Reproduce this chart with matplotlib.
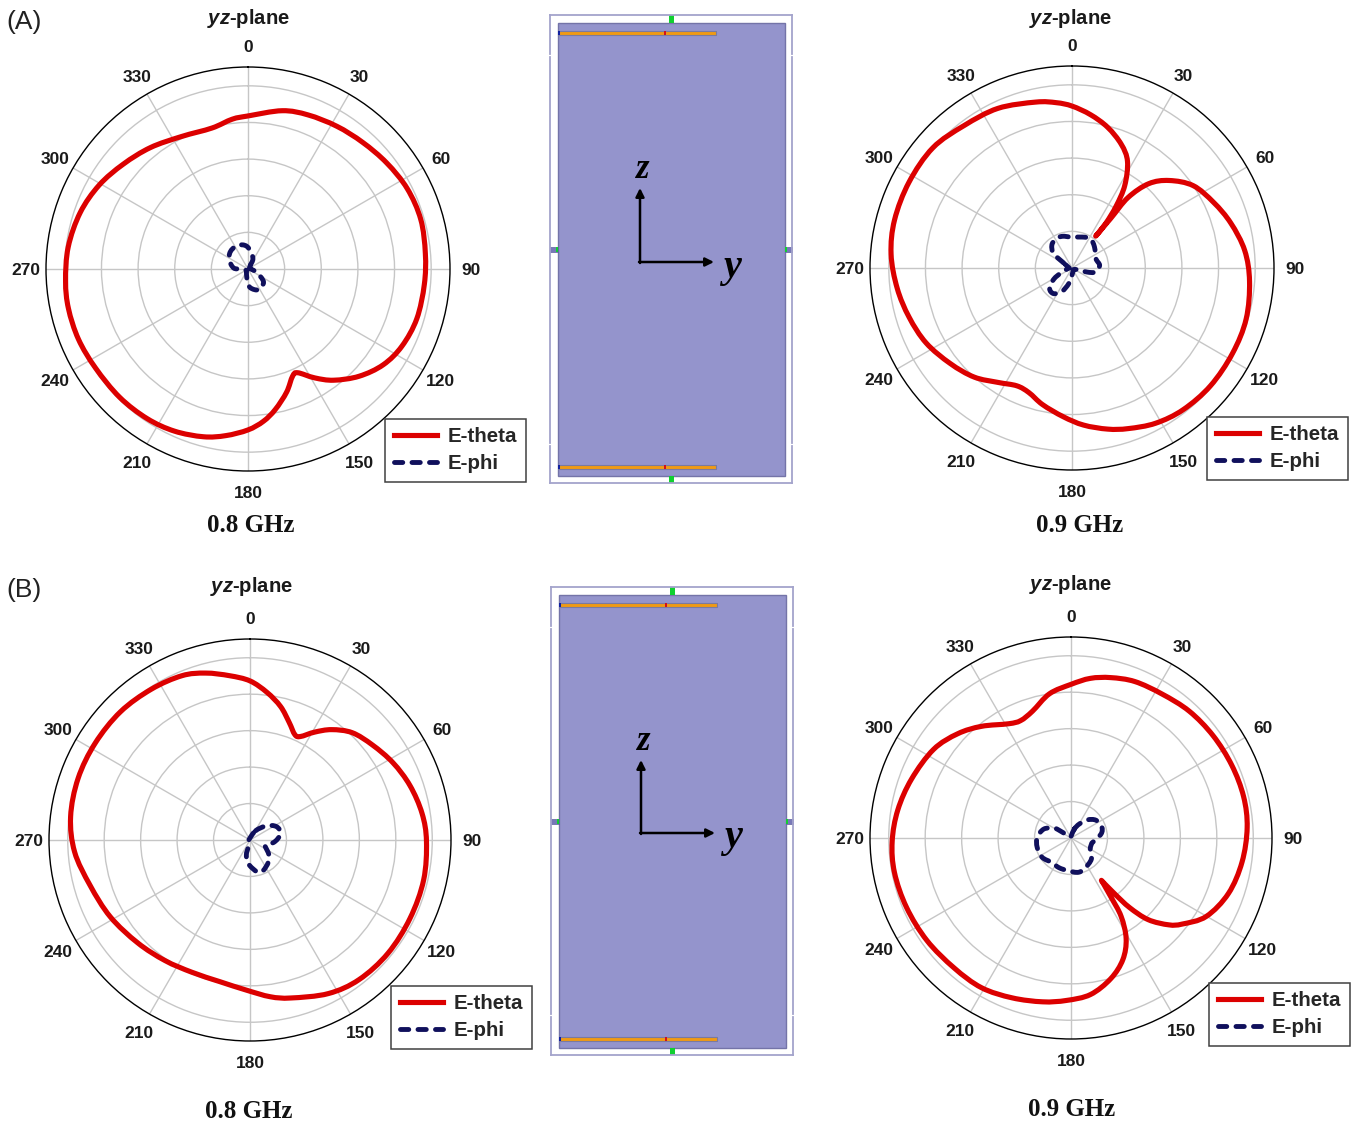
import numpy as np
import matplotlib
matplotlib.use('Agg')
from matplotlib import pyplot as plt
from matplotlib.lines import Line2D
from matplotlib.patches import PathPatch, Rectangle
from matplotlib.path import Path

W, H = 1357, 1122
plt.rcParams['font.family'] = ['Liberation Sans', 'DejaVu Sans']
plt.rcParams['mathtext.fontset'] = 'custom'
plt.rcParams['mathtext.bfit'] = 'Liberation Sans:italic:bold'

# radial unit: outer circle = 590, rings every 107
angles = list(range(0, 360, 30))
angle_labels = [str(a) for a in angles]
rings = [107, 214, 321, 428, 535]

# (A) 0.8 GHz
th_a08 = [0, 12.2, 21.3, 31.9, 42.2, 52.6, 63.2, 74, 85, 95, 106.4, 116.6, 125.3, 134, 142.4, 148.5, 154.4,
          157.4, 162.6, 169, 174.2, 180, 187.6, 194.9, 204.4, 214, 225, 237, 247.5, 257.6, 266.2, 277, 288.6,
          299.4, 310, 321.2, 333.3, 345.7, 354]
r_a08 = [447, 473, 483, 491, 499, 510, 521, 525, 520, 517, 514, 503, 484, 451, 410, 373, 336,
         339, 377, 418, 447, 470, 491, 507, 520, 527, 530, 531, 536, 537, 534, 529, 517,
         499, 476, 455, 433, 425, 440]
th_a08_phi = [32.5, 60, 90, 112, 129.8, 152.7, 173, 185, 225, 270, 274, 295, 314, 335, 353.6, 7.1, 25.8]
r_a08_phi = [13, 5, 8, 28, 59, 68, 55, 33, 6, 22, 42, 60, 72, 76, 69, 54, 33]

# (A) 0.9 GHz
th_a09 = [0, 6.9, 14.2, 21.7, 27.5, 32.6, 35.5, 37.1, 36.6, 38, 38.5, 42.3, 48, 55.8, 65.2, 74.2, 84.2, 94.3,
          106.3, 118, 130.4, 141.9, 151.7, 160.7, 167.5, 175.8, 183.4, 192.2, 199.1, 205.1, 212.9, 221.9,
          231.9, 242.8, 253.2, 263.4, 274.4, 285.2, 297.8, 310.8, 322.8, 335.1, 347.7, 354.6]
r_a09 = [473, 451, 424, 389, 351, 286, 222, 164, 116, 185, 263, 333, 382, 428, 456, 482, 507, 520,
         530, 531, 531, 526, 515, 497, 482, 460, 435, 408, 385, 380, 398, 428,
         452, 479, 497, 514, 530, 537, 538, 537, 522, 514, 496, 485]
th_a09_phi = [301, 308, 318.6, 329.8, 342.5, 0, 17.9, 32, 46.8, 68.7, 84.5, 99.7, 105, 104, 140, 180, 192,
              203.2, 215.5, 227.2, 238.3, 248, 270]
r_a09_phi = [28, 68, 89, 96, 97, 90, 95, 101, 90, 75, 81, 69, 46, 20, 6, 21, 47, 74, 92, 89, 63, 31, 8]

# (B) 0.8 GHz
th_b08 = [0, 6.6, 12.9, 18.4, 23.1, 26, 30.9, 36.5, 43.6, 52.2, 61.6, 71.2, 81.2, 90.4, 102.9, 116.1, 129.4,
          142, 153, 165.5, 172.6, 181.3, 192.2, 203.7, 215.2, 227.5, 241.2, 254.2, 266.1, 277.4, 289.7, 302,
          314.7, 326.8, 337.5, 345.1, 352.9]
r_b08 = [467, 436, 402, 364, 336, 338, 369, 403, 435, 455, 477, 496, 511, 518, 523, 523, 524,
         520, 506, 479, 464, 441, 425, 424, 433, 447, 468, 488, 516, 531, 536, 536,
         535, 529, 522, 507, 486]
th_b08_phi = [31.3, 49.3, 63.1, 77.9, 93.8, 111.8, 128.3, 141, 157.2, 167.2, 184, 193.7, 194, 250, 340]
r_b08_phi = [32, 64, 87, 92, 73, 47, 71, 85, 98, 96, 70, 45, 20, 3, 4]

# (B) 0.9 GHz
th_b09 = [0, 6.9, 13.9, 22.2, 32.3, 43, 54.2, 65.6, 76.5, 86.6, 98, 109.4, 120.1, 127.7, 131.6, 136.6, 139.9,
          142, 144.3, 145.9, 147.4, 151.3, 156.9, 164.2, 172.9, 181.6, 189.8, 200.2, 210.9, 222, 234.6, 247.1,
          258.9, 268.9, 279.2, 290.3, 302.8, 312.6, 321.3, 331.4, 336.8, 343.1, 351.5]
r_b09 = [451, 472, 485, 496, 500, 509, 514, 518, 521, 518, 507, 490, 459, 413, 384, 330, 267,
         207, 153, 209, 273, 337, 388, 429, 463, 477, 488, 500, 512, 513, 519, 524,
         528, 525, 515, 499, 480, 452, 420, 382, 375, 389, 428]
th_b09_phi = [20.3, 30.8, 42.3, 54.6, 69.9, 82.4, 103.4, 119.6, 135.9, 154.5, 167.4, 184, 202.3, 217.2, 236.3,
              254.6, 271.1, 288.2, 300, 303, 305.5, 340, 8]
r_b09_phi = [28, 48, 72, 90, 96, 89, 63, 65, 86, 97, 103, 97, 94, 91, 102, 103, 99, 84, 58, 43, 17, 3, 7]

RED = '#dc0000'
NAVY = '#10105c'
PHI_DASH = (1.7, 1.9)


def smooth_path(th, r, corners=()):
    # closed bezier through the read points, sharp at the given indices
    a = np.deg2rad(th)
    pts = np.column_stack([np.array(r) * np.sin(a), np.array(r) * np.cos(a)])
    n = len(pts)
    tang = (np.roll(pts, -1, axis=0) - np.roll(pts, 1, axis=0)) / 6
    for c in corners:
        tang[c] = 0
    verts = [pts[0]]
    codes = [Path.MOVETO]
    for i in range(n):
        j = (i + 1) % n
        verts += [pts[i] + tang[i], pts[j] - tang[j], pts[j]]
        codes += [Path.CURVE4] * 3
    verts = np.array(verts)
    # back to (theta, r) so the polar axes places it
    return Path(np.column_stack([np.arctan2(verts[:, 0], verts[:, 1]), np.hypot(verts[:, 0], verts[:, 1])]), codes)


def polar_panel(cx, cy, R, th, r, th_phi, r_phi, leg_x, leg_bottom, corners=(), phi_corners=()):
    ax = fig.add_axes([(cx - R) / W, 1 - (cy + R) / H, 2 * R / W, 2 * R / H], polar=True)
    ax.set_theta_zero_location('N')
    ax.set_theta_direction(-1)
    ax.set_ylim(0, 590)
    ax.set_yticks(rings)
    ax.set_yticklabels([])
    ax.set_xticks(np.deg2rad(angles))
    ax.set_xticklabels(angle_labels, fontweight='bold', fontsize=12.5, color='#1a1a1a', va='center_baseline')
    ax.tick_params(axis='x', length=5, width=1, pad=2.8, direction='out')
    ax.grid(True, color='#c6c6c6', lw=1.0)
    ax.spines['polar'].set_linewidth(1.0)
    ax.add_patch(PathPatch(smooth_path(th, r, corners), fill=False, edgecolor=RED, lw=3.7, joinstyle='round',
                           zorder=3))
    ax.add_patch(PathPatch(smooth_path(th_phi, r_phi, phi_corners), fill=False, edgecolor=NAVY, lw=3.5,
                           linestyle=(0, PHI_DASH), capstyle='round', joinstyle='round', zorder=3))
    handles = [Line2D([], [], color=RED, lw=3.7),
               Line2D([], [], color=NAVY, lw=3.5, dashes=PHI_DASH, dash_capstyle='round')]
    leg = ax.legend(handles, ['E-theta', 'E-phi'], loc='lower left',
                    bbox_to_anchor=(leg_x / W, 1 - leg_bottom / H), bbox_transform=fig.transFigure,
                    borderaxespad=0, fancybox=False, framealpha=1, edgecolor='#404040',
                    prop={'weight': 'bold', 'size': 14.8}, handlelength=2.13, handletextpad=0.5,
                    labelspacing=0.4, borderpad=0.42)
    leg.get_frame().set_linewidth(1.1)
    for txt in leg.get_texts():
        txt.set_color('#262626')
    return ax


def rect(ax, x0, y0, x1, y1, color, edge='none', lw=0.0):
    ax.add_patch(Rectangle((x0, y0), x1 - x0, y1 - y0, facecolor=color, edgecolor=edge, lw=lw))


def schematic(ax, x, top, bottom, gap1, gap2, zx, zy, yx, yy, ox, oy, ay, ax_end):
    frame = '#a4a4cc'
    left, right = x, x + 242
    # outer frame with small breaks
    ax.plot([left, right], [top, top], color=frame, lw=1.3)
    ax.plot([left, right], [bottom, bottom], color=frame, lw=1.3)
    for xs in (left, right):
        ax.plot([xs, xs], [top, gap1], color=frame, lw=1.3)
        ax.plot([xs, xs], [gap1 + 3, gap2], color=frame, lw=1.3)
        ax.plot([xs, xs], [gap2 + 3, bottom], color=frame, lw=1.3)
    rect(ax, x + 8, top + 8, x + 235, bottom - 7, '#9494cc', '#7474a8', 1.0)
    mid = (top + bottom) / 2
    # feeds on the frame
    rect(ax, x + 119, top, x + 124, top + 8, '#10d030')
    rect(ax, x + 119, bottom - 7, x + 124, bottom, '#10d030')
    rect(ax, x, mid - 2.5, x + 8, mid + 2.5, '#7878b8', '#6060a0', 0.5)
    rect(ax, x + 235, mid - 2.5, x + 242, mid + 2.5, '#7878b8', '#6060a0', 0.5)
    rect(ax, x + 6, mid - 2.5, x + 8, mid + 2.5, '#10d030')
    rect(ax, x + 235, mid - 2.5, x + 237, mid + 2.5, '#10d030')
    # antenna strips
    for yb in (top + 16, bottom - 18):
        rect(ax, x + 9, yb, x + 166, yb + 4, '#f09a14', '#7a7aa0', 0.8)
        rect(ax, x + 8, yb, x + 10, yb + 4, '#1020a0')
        rect(ax, x + 114, yb, x + 116, yb + 4, '#d01020')
    ax.annotate('', xy=(ox, ay), xytext=(ox, oy + 1),
                arrowprops=dict(arrowstyle='-|>,head_length=0.5,head_width=0.25', color='black', lw=1.8,
                                shrinkA=0, shrinkB=0))
    ax.annotate('', xy=(ax_end, oy), xytext=(ox - 1, oy),
                arrowprops=dict(arrowstyle='-|>,head_length=0.5,head_width=0.25', color='black', lw=1.8,
                                shrinkA=0, shrinkB=0))
    ax.text(zx, zy, 'z', family='Liberation Serif', style='italic', weight='bold', fontsize=25,
            ha='center', va='center')
    ax.text(yx, yy, 'y', family='Liberation Serif', style='italic', weight='bold', fontsize=29,
            ha='center', va='center')


fig = plt.figure(figsize=(W / 100, H / 100), dpi=100, facecolor='white')

bg = fig.add_axes([0, 0, 1, 1])
bg.set_xlim(0, W)
bg.set_ylim(H, 0)
bg.axis('off')
schematic(bg, 550, 15, 483, 54, 443, 643, 169, 732, 267, 640, 262, 188, 714)
schematic(bg, 551, 587, 1055, 626, 1014, 644, 741, 733, 837, 641, 833, 760, 715)

polar_panel(248, 269, 202, th_a08, r_a08, th_a08_phi, r_a08_phi, 385, 482, phi_corners=(2, 8))
polar_panel(1072, 268, 202, th_a09, r_a09, th_a09_phi, r_a09_phi, 1207, 480, corners=(8,), phi_corners=(14, 22))
polar_panel(250, 840, 201, th_b08, r_b08, th_b08_phi, r_b08_phi, 391, 1049, phi_corners=(5, 13))
polar_panel(1071, 838, 201, th_b09, r_b09, th_b09_phi, r_b09_phi, 1209, 1046, corners=(18,), phi_corners=(6, 21))


def label(x, y, s, **kw):
    fig.text(x / W, 1 - y / H, s, ha='center', va='center', **kw)


for x, y in [(249, 19), (1071, 19), (252, 586), (1071, 584)]:
    label(x, y, r'$\mathbfit{yz}$-plane', fontsize=14.6, fontweight='bold', color='#1a1a1a')
for x, y, s in [(251, 526, '0.8 GHz'), (1080, 526, '0.9 GHz'), (249, 1112, '0.8 GHz'), (1072, 1109, '0.9 GHz')]:
    label(x, y, s, fontsize=18, fontweight='bold', family='Liberation Serif', color='#111111')
label(24, 22, '(A)', fontsize=19, color='#222222')
label(24, 590, '(B)', fontsize=19, color='#222222')

fig.savefig('out.png', dpi=100)
